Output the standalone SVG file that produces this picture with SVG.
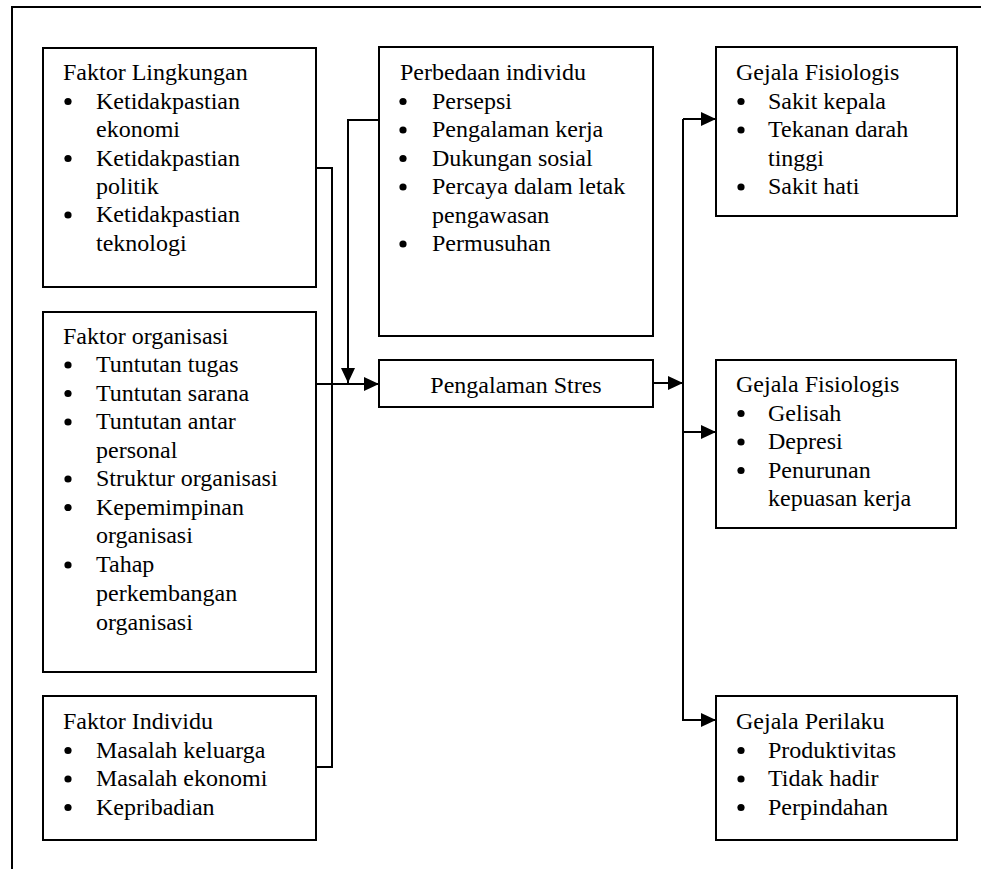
<svg xmlns="http://www.w3.org/2000/svg" width="981" height="869" viewBox="0 0 981 869">
<style>
.box{fill:#fff;stroke:#000;stroke-width:2}
.t{font-family:'Liberation Serif','Tinos','Times New Roman','DejaVu Serif',serif;font-size:24px;fill:#000}
.c{fill:none;stroke:#000;stroke-width:2}
.frame{fill:none;stroke:#000;stroke-width:2}
</style>
<defs>
<marker id="ah" markerUnits="userSpaceOnUse" markerWidth="16" markerHeight="15" refX="15" refY="7" orient="auto">
<path d="M0,0 L15,7 L0,14 Z" fill="#000"/>
</marker>
<circle id="b" r="3.6" fill="#000"/>
</defs>
<path class="frame" d="M12,869 V7 H981"/>

<g id="faktor-lingkungan">
<rect class="box" x="43" y="48" width="273" height="239"/>
<text class="t" x="63" y="80">Faktor Lingkungan</text>
<use href="#b" x="68" y="101.5"/><text class="t" x="96" y="108.5">Ketidakpastian</text>
<text class="t" x="96" y="137">ekonomi</text>
<use href="#b" x="68" y="158.5"/><text class="t" x="96" y="165.5">Ketidakpastian</text>
<text class="t" x="96" y="194">politik</text>
<use href="#b" x="68" y="215"/><text class="t" x="96" y="222">Ketidakpastian</text>
<text class="t" x="96" y="250.5">teknologi</text>
</g>

<g id="faktor-organisasi">
<rect class="box" x="43" y="312" width="273" height="360"/>
<text class="t" x="63" y="343.5">Faktor organisasi</text>
<use href="#b" x="68" y="365"/><text class="t" x="96" y="372">Tuntutan tugas</text>
<use href="#b" x="68" y="393.5"/><text class="t" x="96" y="400.5">Tuntutan sarana</text>
<use href="#b" x="68" y="422"/><text class="t" x="96" y="429">Tuntutan antar</text>
<text class="t" x="96" y="457.5">personal</text>
<use href="#b" x="68" y="479"/><text class="t" x="96" y="486">Struktur organisasi</text>
<use href="#b" x="68" y="507.5"/><text class="t" x="96" y="514.5">Kepemimpinan</text>
<text class="t" x="96" y="543">organisasi</text>
<use href="#b" x="68" y="565"/><text class="t" x="96" y="572">Tahap</text>
<text class="t" x="96" y="600.5">perkembangan</text>
<text class="t" x="96" y="629.5">organisasi</text>
</g>

<g id="faktor-individu">
<rect class="box" x="43" y="696" width="273" height="144"/>
<text class="t" x="63" y="729">Faktor Individu</text>
<use href="#b" x="68" y="750.5"/><text class="t" x="96" y="757.5">Masalah keluarga</text>
<use href="#b" x="68" y="779"/><text class="t" x="96" y="786">Masalah ekonomi</text>
<use href="#b" x="68" y="807.5"/><text class="t" x="96" y="814.5">Kepribadian</text>
</g>

<g id="perbedaan-individu">
<rect class="box" x="379" y="47" width="274" height="289"/>
<text class="t" x="400" y="80">Perbedaan individu</text>
<use href="#b" x="403" y="101.5"/><text class="t" x="432" y="108.5">Persepsi</text>
<use href="#b" x="403" y="130"/><text class="t" x="432" y="137">Pengalaman kerja</text>
<use href="#b" x="403" y="158.5"/><text class="t" x="432" y="165.5">Dukungan sosial</text>
<use href="#b" x="403" y="187"/><text class="t" x="432" y="194">Percaya dalam letak</text>
<text class="t" x="432" y="222.5">pengawasan</text>
<use href="#b" x="403" y="244"/><text class="t" x="432" y="251">Permusuhan</text>
</g>

<g id="pengalaman-stres">
<rect class="box" x="379" y="360" width="274" height="47"/>
<text class="t" x="516" y="392.5" text-anchor="middle">Pengalaman Stres</text>
</g>

<g id="gejala-fisiologis-1">
<rect class="box" x="716" y="47" width="241" height="169"/>
<text class="t" x="736" y="80">Gejala Fisiologis</text>
<use href="#b" x="741" y="101.5"/><text class="t" x="768" y="108.5">Sakit kepala</text>
<use href="#b" x="741" y="130"/><text class="t" x="768" y="137">Tekanan darah</text>
<text class="t" x="768" y="165.5">tinggi</text>
<use href="#b" x="741" y="187"/><text class="t" x="768" y="194">Sakit hati</text>
</g>

<g id="gejala-fisiologis-2">
<rect class="box" x="716" y="360" width="240" height="168"/>
<text class="t" x="736" y="392">Gejala Fisiologis</text>
<use href="#b" x="741" y="413.5"/><text class="t" x="768" y="420.5">Gelisah</text>
<use href="#b" x="741" y="442"/><text class="t" x="768" y="449">Depresi</text>
<use href="#b" x="741" y="470.5"/><text class="t" x="768" y="477.5">Penurunan</text>
<text class="t" x="768" y="506">kepuasan kerja</text>
</g>

<g id="gejala-perilaku">
<rect class="box" x="716" y="696" width="241" height="144"/>
<text class="t" x="736" y="729">Gejala Perilaku</text>
<use href="#b" x="741" y="750.5"/><text class="t" x="768" y="757.5">Produktivitas</text>
<use href="#b" x="741" y="779"/><text class="t" x="768" y="786">Tidak hadir</text>
<use href="#b" x="741" y="807.5"/><text class="t" x="768" y="814.5">Perpindahan</text>
</g>

<g id="connectors">
<polyline class="c" points="316,168 332,168 332,767 316,767"/>
<line class="c" x1="316" y1="384" x2="379" y2="384" marker-end="url(#ah)"/>
<polyline class="c" points="379,120 348,120 348,383" marker-end="url(#ah)"/>
<line class="c" x1="653" y1="383" x2="683" y2="383" marker-end="url(#ah)"/>
<line class="c" x1="683" y1="119" x2="683" y2="721"/>
<line class="c" x1="683" y1="119" x2="716" y2="119" marker-end="url(#ah)"/>
<line class="c" x1="683" y1="432" x2="716" y2="432" marker-end="url(#ah)"/>
<line class="c" x1="683" y1="720" x2="716" y2="720" marker-end="url(#ah)"/>
</g>
</svg>
